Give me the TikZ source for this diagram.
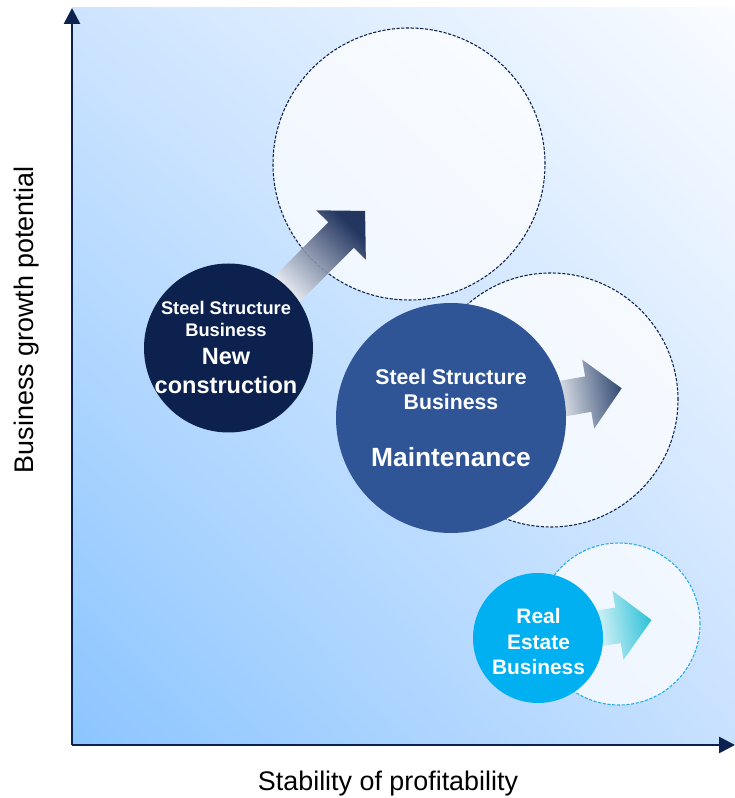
\documentclass[tikz,border=0pt]{standalone}
\usepackage{fontspec}
\setmainfont{Liberation Sans}
\usepackage{tikz}
\usetikzlibrary{arrows.meta,shadings}
\definecolor{navy}{RGB}{13,33,79}
\definecolor{steelblue}{RGB}{47,85,151}
\definecolor{estatecyan}{RGB}{0,176,240}
\definecolor{maintdark}{RGB}{31,56,100}
\definecolor{estatedark}{RGB}{24,188,212}
\definecolor{dashcyan}{RGB}{40,170,230}
\definecolor{bgdeep}{RGB}{139,197,255}
\definecolor{bgpale}{RGB}{250,252,255}
\definecolor{bgleft}{RGB}{205,228,255}
\definecolor{bgright}{RGB}{200,225,255}
\tikzset{>=Triangle}
\tikzset{%
    target/.style={circle, draw=#1, fill=white, fill opacity=0.75, inner sep=0pt,
        line width=0.6pt, dash pattern=on 1.8pt off 0.9pt},
    disc/.style={circle, fill=#1, draw=none, inner sep=0pt},
    txt/.style={text=white, anchor=base, font=\bfseries\fontsize{#1}{#1}\selectfont},
    axislabel/.style={anchor=base, font=\fontsize{15.3}{15.3}\selectfont}
}
% fat arrow along the x axis, from radius #1 out to the tip at #2
\newcommand{\fatarrow}[2]{(#1,-0.36) -- ({#2-0.68},-0.36) -- ({#2-0.68},-0.7) -- (#2,0)
    -- ({#2-0.68},0.7) -- ({#2-0.68},0.36) -- (#1,0.36) -- cycle}

\begin{document}
\begin{tikzpicture}
\useasboundingbox (0,0) rectangle (14.7,15.96);
% field behind the chart
\shade[lower left=bgdeep, upper right=bgpale, upper left=bgleft, lower right=bgright]
    (1.44,1.06) rectangle (14.7,15.8);
% where each business heads
\node[target=navy, minimum size=5.44cm] (newconT) at (8.18,12.68) {};
\node[target=navy, minimum size=5.08cm] (maintT) at (11.02,7.96) {};
\node[target=dashcyan, minimum size=3.24cm] (estateT) at (12.38,3.48) {};
% the businesses
\coordinate (newconP) at (4.57,9.0);
\coordinate (maintP) at (9.02,7.6);
\coordinate (estateP) at (10.76,3.2);
% growth arrows
\begin{scope}[shift={(newconP)}, rotate=45.1]
\shade[left color=white, right color=navy, shading angle=135.1, opacity=0.9] \fatarrow{1.4}{3.87};
\end{scope}
\begin{scope}[shift={(maintP)}, rotate=9.87]
\shade[left color=white, right color=maintdark, shading angle=99.87, opacity=0.9] \fatarrow{2.0}{3.465};
\end{scope}
\begin{scope}[shift={(estateP)}, rotate=9]
\shade[left color=white, right color=estatedark, shading angle=99, opacity=0.9] \fatarrow{1.0}{2.30};
\end{scope}
\node[disc=navy, minimum size=3.38cm] (newcon) at (newconP) {};
\node[disc=steelblue, minimum size=4.6cm] (maint) at (maintP) {};
\node[disc=estatecyan, minimum size=2.6cm] (estate) at (estateP) {};
% circle texts
\node[txt=10.4] (newconA) at (4.52,9.66) {Steel Structure};
\node[txt=10.4] (newconB) at (4.52,9.226) {Business};
\node[txt=13.4] (newconC) at (4.52,8.66) {New};
\node[txt=13.4] (newconD) at (4.52,8.094) {construction};
\node[txt=12.1] (maintA) at (9.02,8.26) {Steel Structure};
\node[txt=12.1] (maintB) at (9.02,7.774) {Business};
\node[txt=15] (maintC) at (9.02,6.626) {Maintenance};
\node[txt=11.9] (estateA) at (10.77,3.494) {Real};
\node[txt=11.9] (estateB) at (10.77,2.974) {Estate};
\node[txt=11.9] (estateC) at (10.77,2.46) {Business};
% axes
\coordinate (O) at (1.44,1.06);
\coordinate (ytop) at (1.44,15.8);
\coordinate (xend) at (14.7,1.06);
\draw[navy, line width=1.5pt, -{Triangle[length=9pt,width=9pt]}] (O) -- (ytop);
\draw[navy, line width=1.5pt, -{Triangle[length=9pt,width=9pt]}] (O) -- (xend);
\node[axislabel, rotate=90] (ylab) at (0.66,9.56) {Business growth potential};
\node[axislabel] (xlab) at (7.76,0.14) {Stability of profitability};
\end{tikzpicture}
\end{document}
